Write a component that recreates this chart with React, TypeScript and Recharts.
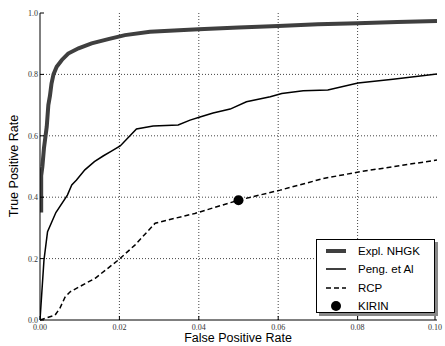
import React from "react";
import { ComposedChart, Line, Scatter, XAxis, YAxis, CartesianGrid } from "recharts";

const nhgkFpr = [0.0003, 0.0003, 0.0006, 0.001, 0.0014, 0.0017, 0.0021, 0.0025, 0.0029, 0.0034, 0.0042, 0.0055, 0.0071, 0.0097, 0.013, 0.0172, 0.0214, 0.0277, 0.035, 0.04, 0.05, 0.06, 0.07, 0.08, 0.09, 0.1];
const nhgkTpr = [0.35, 0.47, 0.5, 0.56, 0.6, 0.63, 0.7, 0.73, 0.77, 0.8, 0.825, 0.847, 0.868, 0.885, 0.901, 0.915, 0.928, 0.939, 0.944, 0.947, 0.953, 0.958, 0.963, 0.967, 0.971, 0.974];

const pengFpr = [0, 0.001, 0.0019, 0.004, 0.0069, 0.008, 0.0092, 0.0113, 0.0137, 0.016, 0.018, 0.0202, 0.0243, 0.0285, 0.0348, 0.0378, 0.0403, 0.0436, 0.0479, 0.052, 0.058, 0.0609, 0.0663, 0.0725, 0.0801, 0.0889, 0.1];
const pengTpr = [0, 0.195, 0.288, 0.35, 0.407, 0.44, 0.456, 0.489, 0.516, 0.535, 0.55, 0.567, 0.622, 0.632, 0.635, 0.651, 0.661, 0.674, 0.687, 0.711, 0.727, 0.738, 0.747, 0.749, 0.772, 0.784, 0.801];

const rcpFpr = [0, 0.0038, 0.005, 0.0063, 0.0076, 0.0139, 0.0197, 0.0239, 0.029, 0.0323, 0.039, 0.0502, 0.0605, 0.0714, 0.0806, 0.1];
const rcpTpr = [0, 0.016, 0.038, 0.074, 0.092, 0.136, 0.195, 0.244, 0.315, 0.326, 0.347, 0.391, 0.423, 0.461, 0.483, 0.521];

const kirinFpr = [0.05];
const kirinTpr = [0.39];

const xTicks = [0, 0.02, 0.04, 0.06, 0.08, 0.1];
const yTicks = [0, 0.2, 0.4, 0.6, 0.8, 1.0];
const gridX = [0.02, 0.04, 0.06, 0.08];
const gridY = [0.2, 0.4, 0.6, 0.8];
const seriesNames = ["Expl. NHGK", "Peng. et Al", "RCP", "KIRIN"];

const zip = (xs: number[], ys: number[]) => xs.map((x, i) => ({ x, y: ys[i] }));

const nhgk = zip(nhgkFpr, nhgkTpr);
const peng = zip(pengFpr, pengTpr);
const rcp = zip(rcpFpr, rcpTpr);
const kirin = zip(kirinFpr, kirinTpr);

const tickFont = "'Liberation Serif', 'DejaVu Serif', serif";
const labelFont = "'Liberation Sans', Arial, sans-serif";

const XTick = (props: any) => {
  const { x, y, payload } = props;
  return (
    <g>
      <line x1={x} y1={y} x2={x} y2={y - 4} stroke="#000" strokeWidth={1} />
      <text x={x} y={y + 10} textAnchor="middle" fontFamily={tickFont} fontSize={8} fill="#333">
        {payload.value.toFixed(2)}
      </text>
    </g>
  );
};

const YTick = (props: any) => {
  const { x, y, payload } = props;
  return (
    <g>
      <line x1={x} y1={y} x2={x + 4} y2={y} stroke="#000" strokeWidth={1} />
      <text x={x - 2} y={y + 3} textAnchor="end" fontFamily={tickFont} fontSize={8} fill="#333">
        {payload.value.toFixed(1)}
      </text>
    </g>
  );
};

const TopTick = (props: any) => {
  const { x, y } = props;
  return <line x1={x} y1={y} x2={x} y2={y + 4} stroke="#000" strokeWidth={1} />;
};

const RightTick = (props: any) => {
  const { x, y } = props;
  return <line x1={x} y1={y} x2={x - 4} y2={y} stroke="#000" strokeWidth={1} />;
};

const LegendBox = () => {
  const samples = [
    <line x1={0} y1={5} x2={20} y2={5} stroke="#3f3f3f" strokeWidth={4} />,
    <line x1={0} y1={5} x2={20} y2={5} stroke="#000" strokeWidth={1.5} />,
    <line x1={0} y1={5} x2={20} y2={5} stroke="#000" strokeWidth={1.5} strokeDasharray="5 3" />,
    <circle cx={10} cy={5} r={5} fill="#000" />,
  ];
  return (
    <div
      style={{
        position: "absolute",
        left: 316,
        top: 239,
        width: 119,
        height: 74,
        border: "1px solid #000",
        background: "#fff",
        boxShadow: "3px 3px 0 #888",
        boxSizing: "border-box",
        paddingTop: 2,
      }}
    >
      {seriesNames.map((name, i) => (
        <div key={name} style={{ display: "flex", alignItems: "center", height: 18.3, paddingLeft: 9 }}>
          <svg width={20} height={10} style={{ overflow: "visible" }}>{samples[i]}</svg>
          <span style={{ marginLeft: 12, fontFamily: labelFont, fontSize: 11.5, color: "#000", lineHeight: "12px" }}>
            {name}
          </span>
        </div>
      ))}
    </div>
  );
};

export default function App() {
  return (
    <div style={{ position: "absolute", left: 0, top: 0, width: 445, height: 346, background: "#fff" }}>
      <ComposedChart width={445} height={346} margin={{ top: 13, right: 8, left: 0, bottom: 0 }}>
        <CartesianGrid xAxisId="b" yAxisId="l" stroke="#444" strokeDasharray="1 2" horizontalValues={gridY} verticalValues={gridX} />
        <XAxis
          xAxisId="b"
          type="number"
          dataKey="x"
          domain={[0, 0.1]}
          ticks={xTicks}
          tick={<XTick />}
          tickLine={false}
          tickSize={0}
          tickMargin={0}
          height={26}
          axisLine={{ stroke: "#000" }}
          allowDataOverflow
        />
        <XAxis
          xAxisId="t"
          orientation="top"
          type="number"
          dataKey="x"
          domain={[0, 0.1]}
          ticks={xTicks}
          tick={<TopTick />}
          tickLine={false}
          tickSize={0}
          tickMargin={0}
          height={0}
          axisLine={{ stroke: "#000" }}
        />
        <YAxis
          yAxisId="l"
          type="number"
          dataKey="y"
          domain={[0, 1]}
          ticks={yTicks}
          tick={<YTick />}
          tickLine={false}
          tickSize={0}
          tickMargin={0}
          width={40}
          axisLine={{ stroke: "#000" }}
        />
        <YAxis
          yAxisId="r"
          orientation="right"
          type="number"
          dataKey="y"
          domain={[0, 1]}
          ticks={yTicks}
          tick={<RightTick />}
          tickLine={false}
          tickSize={0}
          tickMargin={0}
          width={0}
          axisLine={{ stroke: "#000" }}
        />
        <Line xAxisId="b" yAxisId="l" data={nhgk} dataKey="y" name={seriesNames[0]} type="linear" stroke="#3f3f3f" strokeWidth={4} dot={false} isAnimationActive={false} />
        <Line xAxisId="b" yAxisId="l" data={peng} dataKey="y" name={seriesNames[1]} type="linear" stroke="#000" strokeWidth={1.5} dot={false} isAnimationActive={false} />
        <Line xAxisId="b" yAxisId="l" data={rcp} dataKey="y" name={seriesNames[2]} type="linear" stroke="#000" strokeWidth={1.5} strokeDasharray="5 3" dot={false} isAnimationActive={false} />
        <Scatter xAxisId="b" yAxisId="l" data={kirin} dataKey="y" name={seriesNames[3]} fill="#000" shape={(p: any) => <circle cx={p.cx} cy={p.cy} r={5} fill="#000" />} isAnimationActive={false} />
        <text x={238} y={342} textAnchor="middle" fontFamily={labelFont} fontSize={12.5} fill="#000">False Positive Rate</text>
        <text x={18} y={166} textAnchor="middle" fontFamily={labelFont} fontSize={12.5} fill="#000" transform="rotate(-90 18 166)">True Positive Rate</text>
      </ComposedChart>
      <LegendBox />
    </div>
  );
}
